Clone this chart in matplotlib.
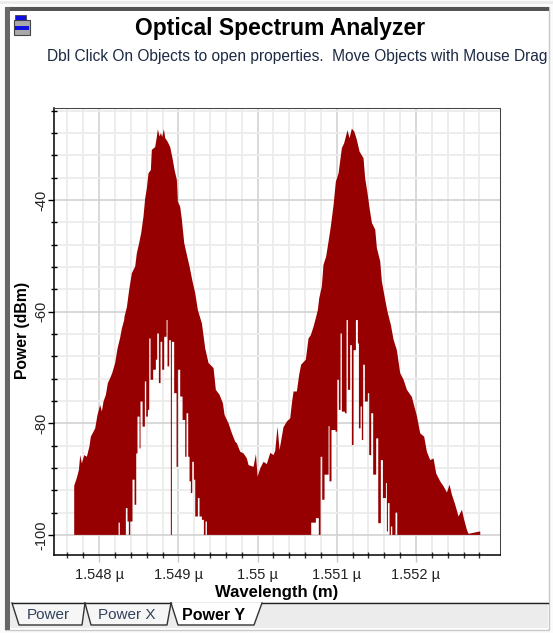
import numpy as np
from matplotlib import pyplot as plt
from matplotlib.patches import Polygon, Rectangle
from matplotlib.ticker import FixedLocator, FuncFormatter

plt.rcParams['font.family'] = ['Liberation Sans', 'DejaVu Sans']

title = 'Optical Spectrum Analyzer'
subtitle = 'Dbl Click On Objects to open properties.  Move Objects with Mouse Drag'
x_label = 'Wavelength (m)'
y_label = 'Power (dBm)'
tab_names = ['Power', 'Power X', 'Power Y']
x_ticks_nm = [1548, 1549, 1550, 1551, 1552]
x_minor_nm = [1547.6, 1547.8, 1548.2, 1548.4, 1548.6, 1548.8, 1549.2, 1549.4, 1549.6, 1549.8, 1550.2,
              1550.4, 1550.6, 1550.8, 1551.2, 1551.4, 1551.6, 1551.8, 1552.2, 1552.4, 1552.6, 1552.8]
y_ticks_db = [-100, -80, -60, -40]
y_minor_db = [-96, -92, -88, -84, -76, -72, -68, -64, -56, -52, -48, -44, -36, -32, -28, -24]

# top edge of the trace (nm, dBm)
upper_nm = [
    1547.685, 1547.718, 1547.744, 1547.761, 1547.782, 1547.811, 1547.845, 1547.878, 1547.895, 1547.929,
    1547.950, 1547.979, 1548.013, 1548.034, 1548.055, 1548.085, 1548.110, 1548.139, 1548.165, 1548.202,
    1548.232, 1548.266, 1548.287, 1548.316, 1548.320, 1548.350, 1548.379, 1548.413, 1548.455, 1548.476,
    1548.505, 1548.531, 1548.560, 1548.581, 1548.602, 1548.623, 1548.653, 1548.665, 1548.707, 1548.729,
    1548.741, 1548.762, 1548.779, 1548.796, 1548.817, 1548.834, 1548.863, 1548.897, 1548.926, 1548.952,
    1548.981, 1548.994, 1549.023, 1549.044, 1549.074, 1549.107, 1549.141, 1549.179, 1549.213, 1549.246,
    1549.297, 1549.339, 1549.381, 1549.444, 1549.473, 1549.520, 1549.562, 1549.583, 1549.633, 1549.676,
    1549.718, 1549.739, 1549.781, 1549.823, 1549.865, 1549.886, 1549.949, 1549.979, 1550.000, 1550.033,
    1550.075, 1550.117, 1550.160, 1550.202, 1550.223, 1550.252, 1550.277, 1550.327, 1550.369, 1550.412,
    1550.433, 1550.454, 1550.496, 1550.525, 1550.550, 1550.609, 1550.643, 1550.672, 1550.706, 1550.727,
    1550.761, 1550.778, 1550.811, 1550.832, 1550.866, 1550.896, 1550.925, 1550.959, 1550.988, 1551.022,
    1551.064, 1551.093, 1551.135, 1551.161, 1551.190, 1551.220, 1551.253, 1551.287, 1551.337, 1551.358,
    1551.388, 1551.413, 1551.443, 1551.485, 1551.506, 1551.548, 1551.569, 1551.611, 1551.640, 1551.683,
    1551.716, 1551.758, 1551.800, 1551.843, 1551.885, 1551.948, 1551.981, 1552.011, 1552.053, 1552.103,
    1552.137, 1552.179, 1552.221, 1552.255, 1552.305, 1552.348, 1552.390, 1552.423, 1552.453, 1552.495,
    1552.537, 1552.579, 1552.608, 1552.642, 1552.663, 1552.802, 1552.811,
]
upper_db = [
    -91.2, -89.8, -88.4, -85.7, -87.2, -85.7, -86.0, -84.1, -82.4, -81.5,
    -80.9, -78.5, -76.7, -77.9, -76.1, -74.9, -72.8, -71.9, -71.0, -69.2,
    -66.6, -64.6, -63.0, -61.5, -60.9, -59.2, -56.1, -53.1, -51.9, -49.5,
    -47.7, -45.9, -42.9, -39.7, -37.9, -35.2, -34.6, -31.0, -30.5, -28.6,
    -27.3, -28.6, -28.0, -28.7, -27.3, -28.9, -29.5, -30.5, -32.5, -34.6,
    -36.4, -40.3, -41.2, -43.5, -47.7, -49.8, -51.9, -54.6, -56.7, -59.7,
    -62.1, -66.6, -69.2, -70.1, -74.0, -74.9, -76.4, -78.5, -80.0, -81.8,
    -83.3, -83.6, -85.1, -85.4, -86.3, -87.5, -87.8, -85.5, -89.6, -88.1,
    -86.9, -87.3, -85.3, -85.7, -84.9, -80.6, -84.8, -80.7, -79.7, -79.1,
    -76.4, -74.3, -74.3, -71.3, -69.5, -68.6, -64.8, -64.2, -62.7, -61.6,
    -59.7, -57.6, -55.5, -51.6, -50.1, -47.4, -44.7, -40.9, -36.7, -35.2,
    -30.7, -29.8, -27.5, -28.9, -27.2, -27.7, -29.2, -31.3, -32.5, -36.1,
    -38.8, -41.4, -44.1, -45.3, -48.6, -51.0, -54.6, -57.9, -60.0, -62.4,
    -65.0, -66.9, -71.0, -72.2, -74.0, -75.3, -77.1, -78.7, -81.8, -82.4,
    -85.1, -86.6, -86.3, -89.0, -90.4, -91.3, -92.4, -91.0, -92.8, -94.6,
    -96.7, -95.5, -97.3, -99.1, -99.8, -99.4, -99.4,
]

# bottom edge of the trace, -100 is where the instrument floor cuts it off
lower_nm = [
    1547.685, 1548.245, 1548.261, 1548.337, 1548.358, 1548.375, 1548.392, 1548.421, 1548.447, 1548.468,
    1548.484, 1548.510, 1548.522, 1548.548, 1548.577, 1548.594, 1548.615, 1548.632, 1548.649, 1548.682,
    1548.716, 1548.733, 1548.754, 1548.775, 1548.796, 1548.821, 1548.851, 1548.863, 1548.884, 1548.905,
    1548.918, 1548.947, 1548.977, 1548.994, 1549.023, 1549.053, 1549.086, 1549.103, 1549.124, 1549.141,
    1549.158, 1549.175, 1549.196, 1549.213, 1549.246, 1549.267, 1549.297, 1549.322, 1549.343, 1549.360,
    1550.677, 1550.736, 1550.773, 1550.795, 1550.816, 1550.845, 1550.896, 1550.908, 1550.933, 1550.984,
    1551.005, 1551.026, 1551.047, 1551.064, 1551.102, 1551.123, 1551.140, 1551.169, 1551.190, 1551.211,
    1551.241, 1551.266, 1551.279, 1551.300, 1551.316, 1551.333, 1551.354, 1551.392, 1551.409, 1551.434,
    1551.459, 1551.497, 1551.523, 1551.556, 1551.582, 1551.620, 1551.632, 1551.645, 1551.666, 1551.683,
    1551.700, 1551.741, 1551.763, 1552.811,
]
lower_db = [
    -100, -97.8, -100, -95.2, -97.6, -100, -97.6, -90.1, -94.6, -85.4,
    -78.8, -84.5, -76.1, -80.6, -72.5, -78.8, -77.6, -64.8, -72.2, -70.4,
    -68.6, -63.9, -72.8, -65.4, -70.4, -64.5, -61.5, -69.8, -65.1, -100,
    -65.4, -74.6, -87.8, -70.4, -75.2, -79.4, -86.0, -78.2, -86.0, -90.4,
    -92.5, -86.9, -90.1, -96.7, -93.4, -96.7, -97.3, -100, -97.6, -100,
    -97.8, -97.0, -100, -86.0, -93.7, -89.2, -80.5, -90.4, -81.2, -81.5,
    -72.2, -77.6, -63.9, -77.9, -78.2, -61.5, -74.0, -66.0, -83.9, -66.9,
    -61.5, -65.7, -80.9, -77.0, -83.0, -69.5, -76.1, -74.6, -85.7, -78.2,
    -89.2, -82.7, -97.9, -86.6, -93.4, -90.7, -99.4, -94.3, -100, -98.5,
    -100, -96.0, -100, -100,
]

# the bottom edge holds each reading until the next one, the top edge joins its readings
low_x = np.repeat(lower_nm, 2)[1:]
low_y = np.repeat(lower_db, 2)[:-1]

fig = plt.figure(figsize=(5.53, 6.33), dpi=100, facecolor='#fbfbfb')

# window chrome, drawn in pixels
bg = fig.add_axes([0, 0, 1, 1], zorder=0)
bg.set_xlim(0, 553)
bg.set_ylim(633, 0)
bg.axis('off')
bg.add_patch(Rectangle((0, 1), 553, 2.5, fc='#ececec', ec='none'))
bg.add_patch(Rectangle((5, 7), 544, 623, fc='white', ec='#c8c8c8', lw=1))
bg.add_patch(Rectangle((5, 7), 544, 4, fc='#555555', ec='none'))
bg.add_patch(Rectangle((5, 7), 5, 623, fc='#666666', ec='none'))
bg.add_patch(Rectangle((10, 602), 538, 26, fc='#ececec', ec='none'))
bg.plot([262, 548], [602.5, 602.5], c='#222222', lw=1)
bg.plot([12, 171], [602.5, 602.5], c='#222222', lw=1)

# little store icon top left
bg.add_patch(Rectangle((14, 20), 16, 15, fc='#a8a8a8', ec='#444444', lw=0.8))
bg.add_patch(Rectangle((15, 15), 11, 5, fc='#1010e0', ec='#444444', lw=0.6))
bg.add_patch(Rectangle((15, 26), 14, 4, fc='#1010e0', ec='none'))

tab_shapes = [
    [(12, 603), (19, 625), (82, 625), (85, 603)],
    [(85, 603), (91, 625), (167, 625), (171, 603)],
    [(171, 603), (178, 625), (254, 625), (262, 603)],
]
tab_x = [48, 127, 214]
for i, shape in enumerate(tab_shapes):
    active = i == 2
    bg.add_patch(Polygon(shape, closed=True, fc='white' if active else '#f6f6f6', ec='none'))
    bg.plot(*zip(*shape), c='#333333', lw=1)
    bg.text(tab_x[i], 615, tab_names[i], ha='center', va='center', fontsize=11.5 if active else 11,
            color='black' if active else '#33415c', fontweight='bold' if active else 'normal')

bg.text(280, 29, title, ha='center', va='center', fontsize=16.5, fontweight='bold', color='black')
bg.text(297, 56, subtitle, ha='center', va='center', fontsize=11.2, color='#1d2a44')

ax = fig.add_axes([54 / 553, 1 - 555 / 633, 446 / 553, 447 / 633], zorder=1)
ax.patch.set_alpha(0)
ax.set_xlim(1547.43, 1553.06)
ax.set_ylim(-103.6, -23.5)

ax.fill(np.r_[upper_nm, low_x[::-1]], np.r_[upper_db, low_y[::-1]], fc='#960000', ec='none', lw=0,
        zorder=3, snap=False)

ax.xaxis.set_major_locator(FixedLocator(x_ticks_nm))
ax.xaxis.set_minor_locator(FixedLocator(x_minor_nm))
ax.yaxis.set_major_locator(FixedLocator(y_ticks_db))
ax.yaxis.set_minor_locator(FixedLocator(y_minor_db))
ax.xaxis.set_major_formatter(FuncFormatter(lambda v, pos: f'{v / 1000:.4g} µ'))
ax.yaxis.set_major_formatter(FuncFormatter(lambda v, pos: f'{v:.0f}'))
ax.grid(which='major', color='#d2d2d2', lw=1.2)
ax.grid(which='minor', color='#ececec', lw=1.3)
ax.set_axisbelow(True)

ax.tick_params(axis='x', which='major', direction='out', length=5, width=1, color='#c8c8c8',
               labelsize=10.5, labelcolor='#222222', pad=4.3)
ax.tick_params(axis='x', which='minor', direction='inout', length=4, width=1, color='#333333')
ax.tick_params(axis='y', which='major', direction='out', length=4.3, width=1, color='black',
               labelsize=10.5, labelcolor='#222222', pad=0)
ax.tick_params(axis='y', which='minor', direction='inout', length=4.3, width=1, color='black')
for lab in ax.get_yticklabels():
    lab.set_rotation(90)
    lab.set_va('center')

for side in ['top', 'right']:
    ax.spines[side].set_linestyle((0, (1, 1)))
    ax.spines[side].set_linewidth(0.75)
    ax.spines[side].set_edgecolor('#444444')
ax.spines['left'].set_linewidth(1.1)
ax.spines['bottom'].set_linewidth(1.1)

bg.text(277, 592, x_label, ha='center', va='center', fontsize=12, fontweight='bold', color='black')
bg.text(23, 330, y_label, ha='center', va='center', rotation=90, fontsize=11.3, fontweight='bold',
        color='black')

fig.savefig('out.png', dpi=100, facecolor=fig.get_facecolor())
